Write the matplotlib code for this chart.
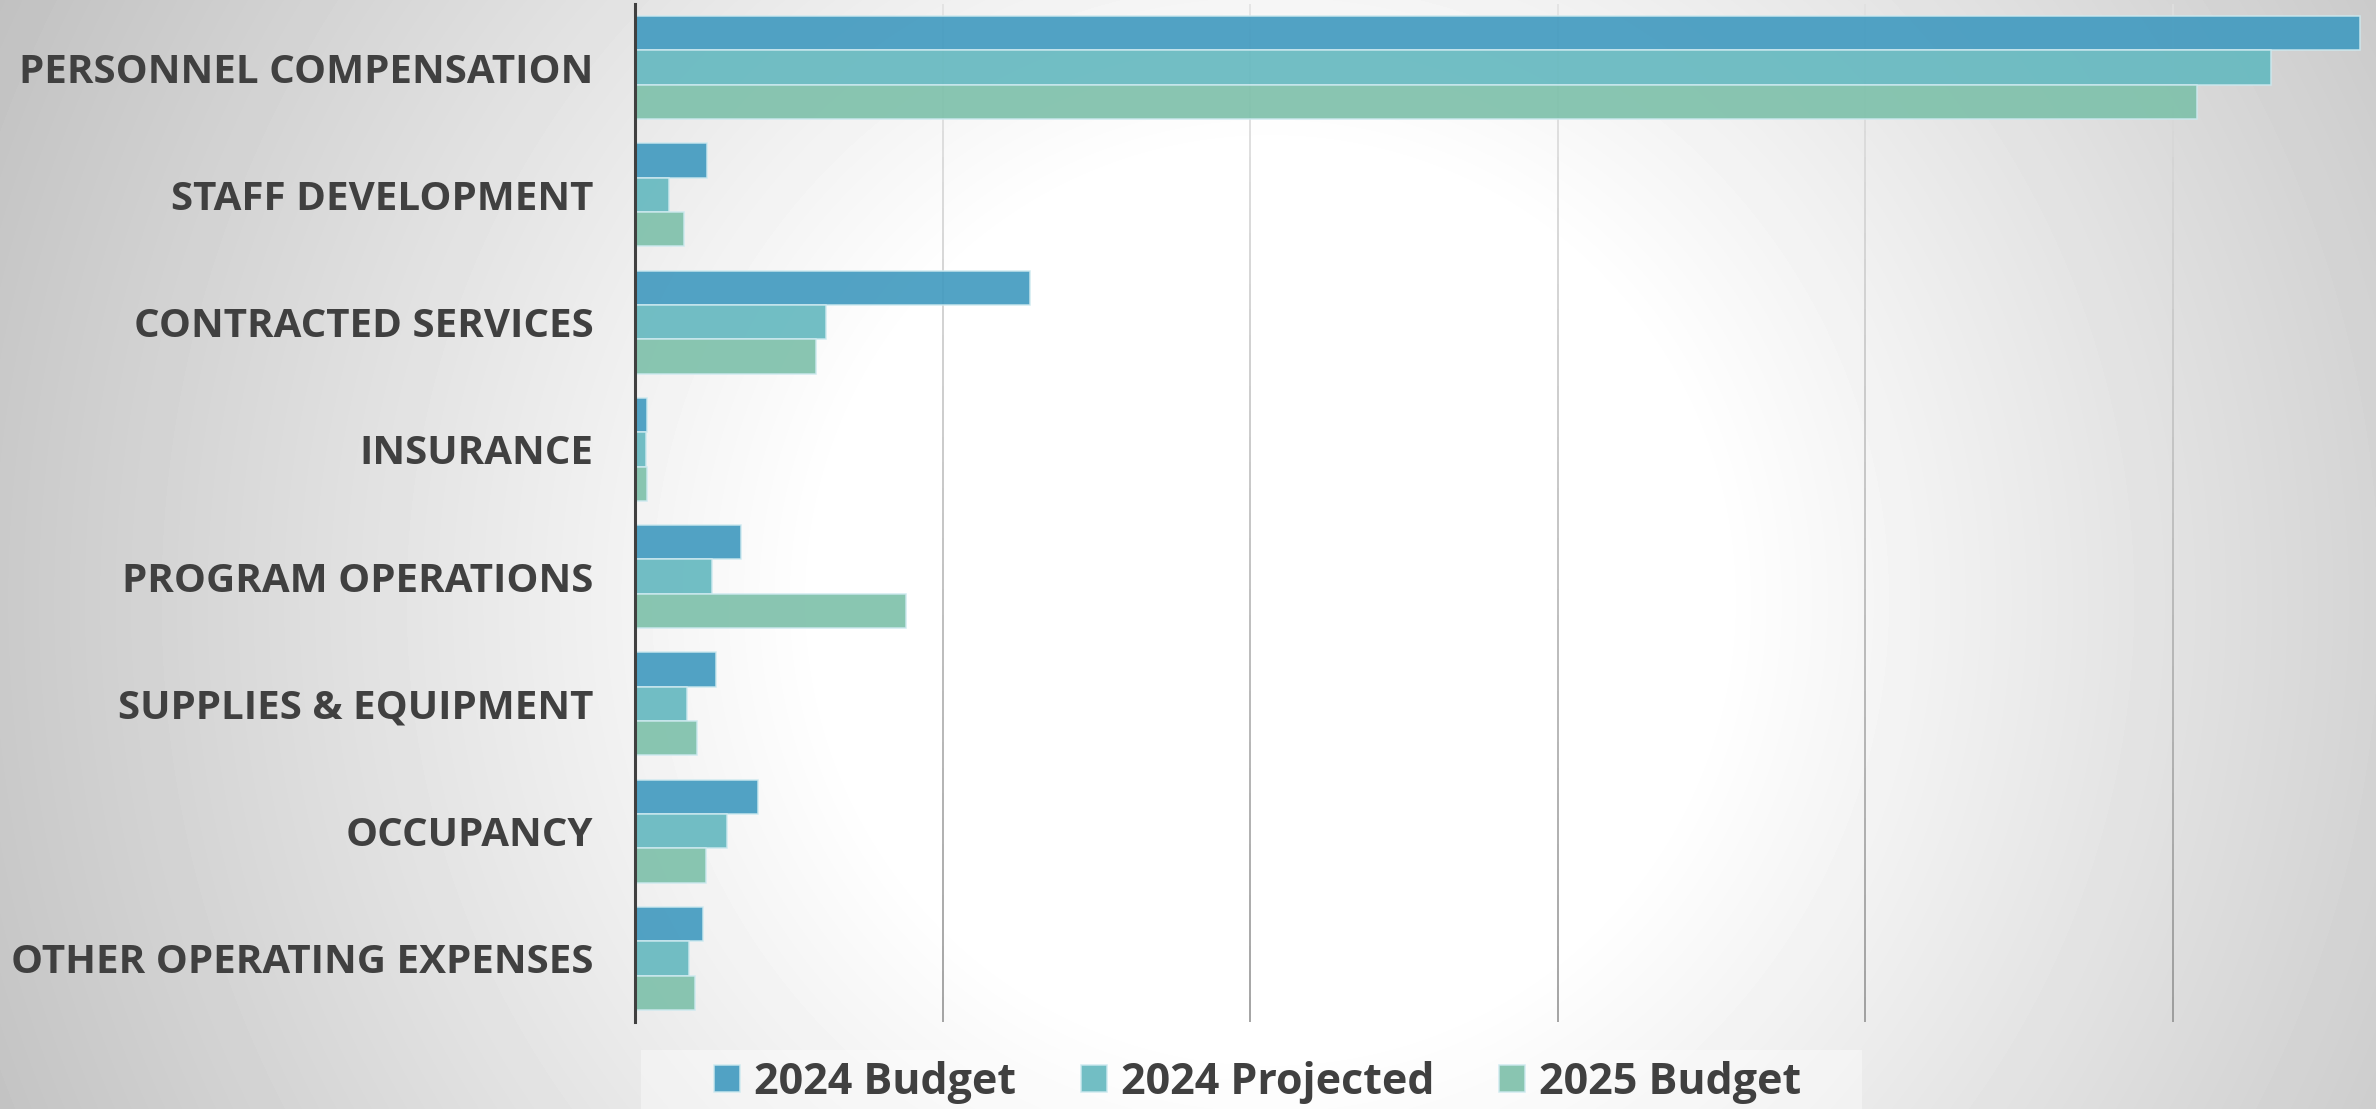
import numpy as np
import matplotlib.pyplot as plt
from matplotlib.collections import LineCollection
from matplotlib.patches import Rectangle

# data (x axis has no labels, grid step taken as 200,000)
categories = ['PERSONNEL COMPENSATION', 'STAFF DEVELOPMENT', 'CONTRACTED SERVICES', 'INSURANCE',
              'PROGRAM OPERATIONS', 'SUPPLIES & EQUIPMENT', 'OCCUPANCY', 'OTHER OPERATING EXPENSES']
budget_2024 = [1122000, 47000, 257000, 8000, 69000, 53000, 80000, 44000]
projected_2024 = [1064000, 22000, 124000, 7000, 50000, 34000, 60000, 35000]
budget_2025 = [1016000, 32000, 118000, 8000, 176000, 40000, 46000, 39000]
series_names = ['2024 Budget', '2024 Projected', '2025 Budget']
grid_values = [200000, 400000, 600000, 800000, 1000000]

colors = ['#439bc0', '#66b9c0', '#7fc1ab']
text_col = '#404040'

plt.rcParams['font.family'] = ['Open Sans', 'DejaVu Sans']

W, H = 2376, 1109
fig = plt.figure(figsize=(W / 100, H / 100), dpi=100)

# radial grey -> white background
bg = fig.add_axes([0, 0, 1, 1], zorder=-10)
yy, xx = np.mgrid[0:H, 0:W]
d = np.hypot(xx - 1270, yy - 600)
shade = np.clip(255 - 0.065 * np.clip(d - 450, 0, None), 0, 255) / 255
bg.imshow(shade, cmap='gray', vmin=0, vmax=1, aspect='auto')
bg.axis('off')

ax = fig.add_axes([635 / W, 1 - 1022 / H, 1 - 635 / W, 1018 / H])
ax.set_facecolor('none')

y = np.arange(len(categories))
h = 0.27
for i, (vals, name) in enumerate(zip([budget_2024, projected_2024, budget_2025], series_names)):
    ax.barh(y + (i - 1) * h, vals, height=h, color=colors[i], alpha=0.92,
            edgecolor='#cde9ef', linewidth=1.1, label=name, zorder=3)

ax.set_ylim(len(categories) - 0.5, -0.5)
ax.set_xlim(0, 1741 / 307.5 * 200000)

# gridlines, lighter at the top, darker at the bottom
n = 40
ys = np.linspace(-0.5, len(categories) - 0.5, n + 1)
light = np.array([0.88, 0.88, 0.88])
dark = np.array([0.54, 0.54, 0.54])
for gv in grid_values:
    segs = [[(gv, ys[k]), (gv, ys[k + 1])] for k in range(n)]
    cols = [light + (dark - light) * (k / n) for k in range(n)]
    ax.add_collection(LineCollection(segs, colors=cols, linewidths=1.1, zorder=1))

ax.set_yticks(y, categories, fontsize=29, fontweight='bold', color=text_col)
ax.set_xticks([])
ax.tick_params(axis='y', length=0, pad=30)
for s in ['top', 'right', 'bottom']:
    ax.spines[s].set_visible(False)
ax.spines['left'].set_color(text_col)
ax.spines['left'].set_linewidth(2.2)
ax.spines['left'].set_zorder(5)

# legend with its faint panel
fig.patches.append(Rectangle((641 / W, 0), (1862 - 641) / W, (H - 1050) / H,
                             transform=fig.transFigure, facecolor='white', alpha=0.4,
                             edgecolor='none', zorder=-5))
fig.legend(*ax.get_legend_handles_labels(), loc='center', bbox_to_anchor=(1258 / W, 1 - 1082 / H),
           ncol=3, frameon=False, prop={'weight': 'bold', 'size': 31}, labelcolor=text_col,
           handlelength=0.6, handleheight=0.6, handletextpad=0.33, columnspacing=1.5)

plt.savefig('out.png', dpi=100)
